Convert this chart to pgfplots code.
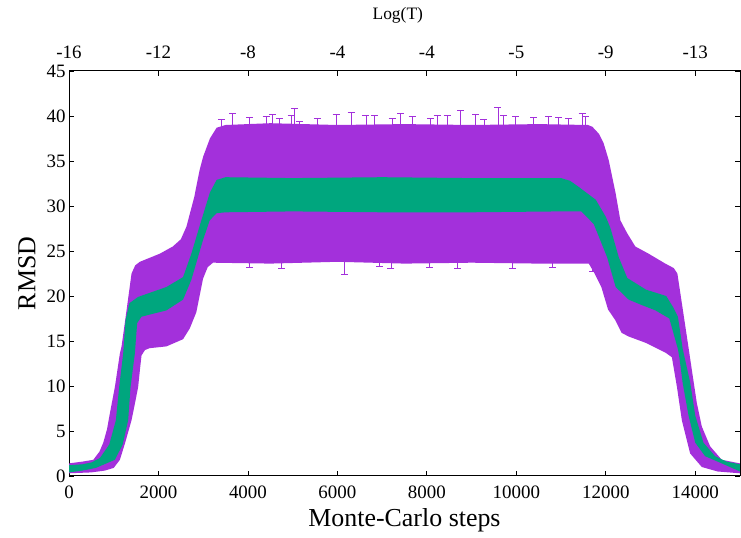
\documentclass[border=0pt]{standalone}
\usepackage{fontspec}
\setmainfont{Liberation Serif}
\usepackage{pgfplots}
\usepackage{pgfplotstable}
\pgfplotsset{compat=1.18}
\usepgfplotslibrary{fillbetween}

\definecolor{rmsdpurple}{HTML}{A330DB}
\definecolor{rmsdgreen}{HTML}{00A67E}

% band edges (steps, RMSD)
\pgfplotstableread{
x y
0 1.4
300 1.6
543 1.8
680 2.7
766 3.7
850 5.2
915 7.0
1026 9.9
1137 13.6
1175 14.4
1286 18.4
1398 22.5
1480 23.4
1583 23.8
2030 24.7
2320 25.5
2500 26.3
2625 27.7
2800 31.0
2920 34.0
3000 35.5
3150 37.5
3300 38.7
3500 39.0
4500 39.2
6000 39.0
7500 39.1
9000 39.0
10500 39.1
11600 39.0
11700 38.8
11850 38.0
11950 37.0
12065 35.1
12220 31.4
12326 28.4
12475 27.0
12660 25.5
12957 24.7
13330 23.6
13520 23.1
13600 22.5
13700 19.2
13812 15.5
13923 11.8
14035 8.1
14146 5.5
14332 3.3
14592 1.8
15000 1.4
}\purplehi

\pgfplotstableread{
x y
0 0.3
500 0.4
800 0.6
1000 0.9
1137 1.8
1250 3.6
1398 6.2
1480 8.2
1546 9.9
1590 12.0
1621 13.4
1700 14.0
1800 14.2
2178 14.4
2550 15.2
2700 16.4
2847 18.2
2995 21.9
3100 23.2
3218 23.7
4500 23.6
6000 23.8
7500 23.6
9000 23.7
10500 23.6
11620 23.6
11750 22.5
11900 21.0
12050 18.5
12214 17.3
12355 15.9
12510 15.5
12890 14.8
13335 13.7
13477 13.2
13590 9.9
13700 6.2
13886 2.5
14146 1.0
14500 0.5
15000 0.3
}\purplelo

\pgfplotstableread{
x y
0 1.2
300 1.3
500 1.5
692 2.0
900 3.5
1048 6.2
1122 9.9
1211 13.6
1264 17.3
1350 19.2
1546 19.9
2178 21.0
2550 22.1
2735 24.7
2958 28.4
3150 31.5
3300 32.9
3500 33.2
5000 33.1
7000 33.2
9000 33.1
11000 33.1
11200 32.8
11400 32.1
11775 30.7
12000 28.8
12100 27.6
12290 24.3
12480 22.0
12900 20.7
13350 20.0
13500 18.8
13612 17.7
13720 14.1
13886 10.4
14000 6.7
14183 3.7
14443 2.2
14700 1.6
15000 1.3
}\greenhi

\pgfplotstableread{
x y
0 0.4
300 0.6
600 0.9
1026 1.8
1200 3.5
1323 6.2
1376 9.9
1472 13.6
1524 17.0
1621 17.7
2178 18.4
2550 19.6
2735 21.8
2995 26.2
3145 28.4
3300 29.2
3500 29.3
5000 29.4
7000 29.3
9000 29.3
11000 29.4
11450 29.4
11730 28.0
12030 24.3
12220 21.0
12510 19.6
12800 19.0
13110 18.4
13420 17.5
13612 14.1
13650 13.0
13716 10.4
13850 6.7
14000 3.7
14220 2.2
14592 1.4
15000 0.5
}\greenlo

% error-bar caps sticking out of the purple band
\pgfplotstableread{
x y e
3405 36 3.6
3657 36 4.3
4037 36 3.8
4409 36 3.9
4550 36 4.2
4706 36 3.7
4967 36 4.0
5040 36 4.8
5152 36 3.4
5553 36 3.7
5970 36 4.2
6305 36 4.4
6639 36 4.0
6824 36 4.1
7226 36 3.7
7420 36 4.3
7672 36 3.9
8089 36 3.7
8229 36 4.0
8452 36 4.1
8758 36 4.6
9092 36 4.2
9277 36 3.6
9590 36 4.9
9723 36 4.0
9984 36 3.9
10392 36 3.8
10727 36 3.9
10950 36 3.8
11173 36 3.7
11470 36 4.3
11546 36 3.9
}\capshi

\pgfplotstableread{
x y e
4037 26 2.8
4743 26 2.9
6155 26 3.6
6936 26 2.7
7197 26 2.9
8051 26 2.8
8682 26 2.9
9909 26 3.0
10801 26 2.8
11693 26 3.3
}\capslo

\begin{document}
\begin{tikzpicture}
\pgfplotsset{
  every axis/.append style={
    at={(69bp,62bp)}, anchor=south west,
    scale only axis, width=671bp, height=405bp,
    xmin=0, xmax=15000, ymin=0, ymax=45,
    tick align=inside, major tick length=5bp,
    axis line style={line width=1bp},
    every tick/.style={black, line width=0.8bp},
    tick label style={font=\fontsize{19}{19}\selectfont},
    scaled x ticks=false,
    /pgf/number format/assume math mode=true,
    /pgf/number format/1000 sep={},
  },
  capbars/.style={draw=none, mark=none, forget plot,
    error bars/y explicit,
    error bars/error mark=|,
    error bars/error bar style={rmsdpurple, line width=0.9bp},
    error bars/error mark options={rmsdpurple, mark size=3.5bp, line width=1bp}},
}
\begin{axis}[
  xtick={0,2000,...,14000},
  ytick={0,5,...,45},
  xtick pos=bottom,
  xticklabel style={yshift=-6bp},
  xlabel={Monte-Carlo steps},
  ylabel={RMSD},
  label style={font=\fontsize{26}{26}\selectfont},
  xlabel style={at={(axis description cs:0.5,-0.1086)}, anchor=center},
  ylabel style={at={(axis description cs:-0.0626,0.5)}, anchor=center},
]
  \addplot[draw=none, name path=ph] table {\purplehi};
  \addplot[draw=none, name path=pl] table {\purplelo};
  \addplot[rmsdpurple, draw=none] fill between[of=ph and pl];
  \addplot[capbars, error bars/y dir=plus] table[x=x, y=y, y error=e] {\capshi};
  \addplot[capbars, error bars/y dir=minus] table[x=x, y=y, y error=e] {\capslo};
  \addplot[draw=none, name path=gh] table {\greenhi};
  \addplot[draw=none, name path=gl] table {\greenlo};
  \addplot[rmsdgreen, draw=none] fill between[of=gh and gl];
\end{axis}
\begin{axis}[
  axis x line*=top,
  axis y line*=right,
  ytick=\empty,
  xtick={0,2000,...,14000},
  xticklabels={-16,-12,-8,-4,-4,-5,-9,-13},
  xticklabel style={yshift=9bp},
  xlabel={Log(T)},
  xlabel style={font=\fontsize{17.5}{17.5}\selectfont, at={(axis description cs:0.49,1.138)}, anchor=center},
]
  \addplot[draw=none] coordinates {(0,0) (15000,45)};
\end{axis}
\pgfresetboundingbox
\useasboundingbox (0,0) rectangle (741bp,538bp);
\end{tikzpicture}
\end{document}
